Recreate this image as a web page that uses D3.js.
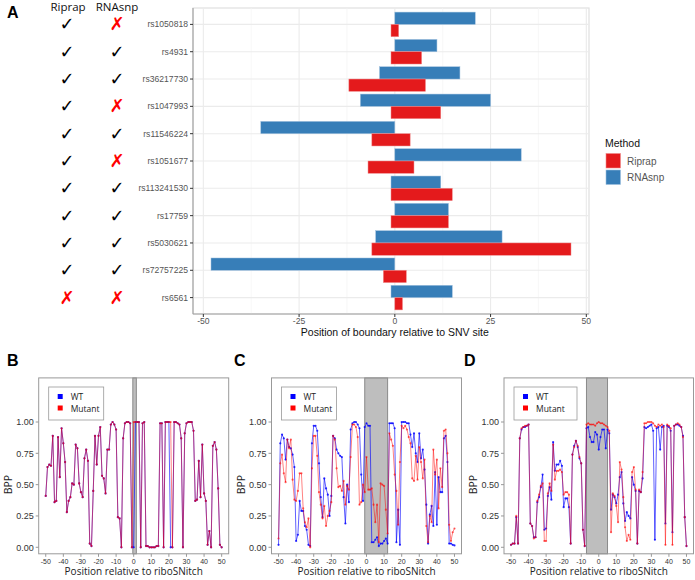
<!DOCTYPE html>
<html><head><meta charset="utf-8">
<script src="https://cdn.jsdelivr.net/npm/d3@7"></script>
<style>body{margin:0;background:#fff}svg{display:block}</style>
</head><body>
<svg id="c" width="695" height="580"></svg>
<script>
// ---------- Panel A data ----------
const categories = ["rs1050818","rs4931","rs36217730","rs1047993","rs11546224","rs1051677","rs113241530","rs17759","rs5030621","rs72757225","rs6561"];
const riprapStart = [-1,-1,-12,-1,-6,-7,-1,-1,-6,-3,0];
const riprapEnd   = [1,7,8,12,4,5,15,14,46,3,2];
const rnasnpStart = [0,0,-4,-9,-35,0,-1,0,-5,-48,-1];
const rnasnpEnd   = [21,11,17,25,0,33,12,14,28,0,15];
const riprapCheck = [true,true,true,true,true,true,true,true,true,true,false];
const rnasnpCheck = [false,true,true,false,true,false,true,true,true,true,false];
const xTicksA = [-50,-25,0,25,50];
const methods = ["Riprap","RNAsnp"];

// ---------- Panels B-D data ----------
const positions = [-50,-49,-48,-47,-46,-45,-44,-43,-42,-41,-40,-39,-38,-37,-36,-35,-34,-33,-32,-31,-30,-29,-28,-27,-26,-25,-24,-23,-22,-21,-20,-19,-18,-17,-16,-15,-14,-13,-12,-11,-10,-9,-8,-7,-6,-5,-4,-3,-2,-1,0,1,2,3,4,5,6,7,8,9,10,11,12,13,14,15,16,17,18,19,20,21,22,23,24,25,26,27,28,29,30,31,32,33,34,35,36,37,38,39,40,41,42,43,44,45,46,47,48,49,50];
const bMutant = [0.41,0.64,0.66,0.65,0.89,0.36,0.37,0.88,0.56,0.95,0.83,0.68,0.28,0.37,0.40,0.51,0.50,0.82,0.79,0.51,0.44,0.40,0.71,0.78,0.69,0.03,0.01,0.45,0.89,0.66,0.89,0.96,0.57,0.55,0.43,0.78,0.78,0.98,1.00,0.98,0.94,0.24,0.23,0.00,0.87,0.99,1.00,1.00,0.99,0.00,
  1.00,1.00,1.00,1.00,0.00,0.99,1.00,0.01,0.01,0.00,0.00,0.00,0.00,0.01,0.01,0.99,0.99,0.00,1.00,1.00,1.00,1.00,0.00,1.00,1.00,0.99,0.98,0.87,0.00,0.91,0.99,1.00,1.00,1.00,0.93,0.37,0.38,0.69,0.40,0.82,0.43,0.37,0.02,0.13,0.00,0.81,0.84,0.78,0.47,0.02,0.00];
const bWT = [0.41,0.64,0.66,0.65,0.89,0.36,0.37,0.88,0.56,0.95,0.83,0.68,0.28,0.37,0.40,0.51,0.50,0.82,0.79,0.51,0.44,0.40,0.71,0.78,0.69,0.03,0.01,0.45,0.89,0.66,0.89,0.96,0.57,0.55,0.43,0.78,0.78,0.98,1.00,0.98,0.94,0.24,0.23,0.00,0.87,0.99,1.00,1.00,0.99,0.00,
  0.00,1.00,1.00,1.00,0.00,0.99,1.00,0.01,0.01,0.00,0.00,0.00,0.00,0.01,0.01,0.99,0.99,0.00,1.00,1.00,1.00,0.00,0.00,1.00,1.00,0.99,0.98,0.87,0.00,0.91,0.99,1.00,1.00,1.00,0.93,0.37,0.38,0.69,0.40,0.82,0.43,0.37,0.02,0.13,0.00,0.81,0.84,0.78,0.47,0.02,0.00];
const cWT = [0.02,0.83,0.90,0.87,0.70,0.86,0.80,0.79,0.74,0.64,0.05,0.10,0.37,0.29,0.29,0.17,0.14,0.02,0.01,0.83,0.97,0.97,0.93,0.67,0.40,0.24,0.55,0.47,0.42,0.25,0.41,0.89,0.87,0.78,0.75,0.73,0.72,0.40,0.19,0.50,0.36,0.94,0.99,1.00,1.00,0.98,0.95,0.58,0.37,0.96,
  0.99,0.97,0.97,0.04,0.04,0.06,0.08,0.01,0.03,0.03,0.05,0.07,0.03,0.99,0.99,0.99,0.95,0.04,0.30,0.02,1.00,1.00,1.00,0.99,0.99,0.90,0.80,0.91,0.75,0.68,0.91,0.71,0.78,0.62,0.34,0.03,0.26,0.33,0.17,0.60,0.18,0.56,0.44,0.44,0.87,0.89,0.68,0.03,0.03,0.02,0.015];
const cMutant = [0.07,0.67,0.74,0.59,0.52,0.86,0.79,0.86,0.54,0.38,0.37,0.45,0.59,0.59,0.31,0.20,0.16,0.23,0.00,0.63,0.89,0.89,0.73,0.44,0.34,0.23,0.33,0.17,0.25,0.29,0.36,0.89,0.86,0.63,0.48,0.49,0.45,0.53,0.34,0.49,0.46,0.72,0.98,0.98,0.96,0.88,0.34,0.36,0.50,0.44,
  0.72,0.46,0.46,0.47,0.34,0.20,0.34,0.04,0.51,0.50,0.49,0.30,0.11,0.91,0.86,0.81,0.58,0.45,0.18,0.68,0.97,0.95,0.97,0.94,0.88,0.83,0.55,0.53,0.73,0.54,0.80,0.68,0.55,0.70,0.17,0.04,0.25,0.20,0.78,0.58,0.70,0.31,0.63,0.48,0.93,0.94,0.75,0.18,0.05,0.12,0.15];
const dWT = [0.02,0.03,0.03,0.24,0.03,0.87,0.94,0.96,0.96,0.97,0.98,0.19,0.17,0.08,0.08,0.36,0.40,0.48,0.58,0.14,0.15,0.41,0.48,0.38,0.84,0.61,0.66,0.66,0.69,0.65,0.32,0.39,0.39,0.32,0.03,0.74,0.81,0.85,0.80,0.71,0.67,0.14,0.01,0.95,0.96,0.88,0.84,0.84,0.92,0.90,
  0.78,0.88,0.94,0.94,0.79,0.94,0.91,0.30,0.42,0.40,0.35,0.42,0.56,0.60,0.35,0.21,0.28,0.25,0.23,0.56,0.50,0.45,0.03,0.45,0.44,0.55,0.96,0.95,0.96,0.97,0.98,0.93,0.06,0.95,0.96,0.78,0.96,0.97,0.19,0.97,0.96,0.93,0.12,0.97,0.98,0.98,0.97,0.96,0.89,0.24,0.01];
const dMutant = [0.02,0.03,0.03,0.25,0.03,0.87,0.95,0.96,0.97,0.97,0.98,0.19,0.17,0.07,0.08,0.37,0.42,0.49,0.51,0.05,0.05,0.43,0.51,0.45,0.82,0.54,0.61,0.61,0.62,0.60,0.42,0.44,0.44,0.42,0.03,0.74,0.80,0.85,0.81,0.72,0.67,0.14,0.01,0.98,0.99,0.98,0.98,0.98,0.97,0.99,
  1.00,0.99,0.99,0.98,0.97,0.96,0.93,0.12,0.43,0.41,0.33,0.20,0.68,0.62,0.40,0.16,0.05,0.10,0.06,0.60,0.64,0.46,0.03,0.46,0.44,0.60,0.99,0.99,1.00,1.00,1.00,0.99,0.97,0.96,0.98,0.97,0.98,0.96,0.02,0.98,0.97,0.95,0.02,0.97,0.98,0.99,0.98,0.96,0.88,0.24,0.01];
const bppTicks = [0,0.25,0.5,0.75,1];
const posTicks = [-50,-40,-30,-20,-10,0,10,20,30,40,50];
const bands = {B:[-0.5,1.5], C:[-1,12], D:[-7,5]};

const svg = d3.select("#c");
const sans = "'Liberation Sans', Arial, sans-serif";

// ===================== Panel A =====================
const xA = d3.scaleLinear().domain([-52.7,50.7]).range([193,589]);
const yA = d3.scalePoint().domain(categories).range([8,314]).padding(0.6);
const step = yA.step();
const gA = svg.append("g");

gA.append("rect").attr("x",193).attr("y",8).attr("width",396).attr("height",306)
  .attr("fill","#fff").attr("stroke","#e0e0e0").attr("stroke-width",1.2);
const minorA = [-37.5,-12.5,12.5,37.5];
gA.selectAll(".mg").data(minorA).join("line")
  .attr("x1",d=>xA(d)).attr("x2",d=>xA(d)).attr("y1",8).attr("y2",314)
  .attr("stroke","#f3f3f3").attr("stroke-width",0.7);
gA.selectAll(".gx").data(xTicksA).join("line")
  .attr("x1",d=>xA(d)).attr("x2",d=>xA(d)).attr("y1",8).attr("y2",314)
  .attr("stroke","#ebebeb").attr("stroke-width",1.1);
gA.selectAll(".gy").data(categories).join("line")
  .attr("x1",193).attr("x2",589).attr("y1",d=>yA(d)).attr("y2",d=>yA(d))
  .attr("stroke","#ebebeb").attr("stroke-width",1.1);

const barH = step*0.45;
const barData = [];
categories.forEach((c,i)=>{
  barData.push({cat:c, m:"RNAsnp", s:rnasnpStart[i], e:rnasnpEnd[i]});
  barData.push({cat:c, m:"Riprap", s:riprapStart[i], e:riprapEnd[i]});
});
const colA = d3.scaleOrdinal().domain(methods).range(["#E41A1C","#377EB8"]);
gA.selectAll(".bar").data(barData).join("rect")
  .attr("x",d=>xA(Math.min(d.s,d.e)))
  .attr("width",d=>Math.max(1.5,Math.abs(xA(d.e)-xA(d.s))))
  .attr("y",d=>d.m==="RNAsnp"? yA(d.cat)-barH : yA(d.cat))
  .attr("height",barH)
  .attr("fill",d=>colA(d.m))
  .attr("stroke",d=>d.m==="RNAsnp"?"#9fc0de":"#f08a8b").attr("stroke-width",0.5);

gA.append("line").attr("x1",193).attr("x2",193).attr("y1",8).attr("y2",314).attr("stroke","#a0a0a0").attr("stroke-width",1.1);
gA.append("line").attr("x1",193).attr("x2",589).attr("y1",314).attr("y2",314).attr("stroke","#a0a0a0").attr("stroke-width",1.1);
gA.selectAll(".yt").data(categories).join("line")
  .attr("x1",190).attr("x2",193).attr("y1",d=>yA(d)).attr("y2",d=>yA(d)).attr("stroke","#333");
gA.selectAll(".yl").data(categories).join("text")
  .attr("x",188).attr("y",d=>yA(d)+3).attr("text-anchor","end")
  .attr("font-family",sans).attr("font-size",8.6).attr("fill","#555").text(d=>d);
gA.selectAll(".xt").data(xTicksA).join("line")
  .attr("x1",d=>xA(d)).attr("x2",d=>xA(d)).attr("y1",314).attr("y2",317).attr("stroke","#333");
gA.selectAll(".xl").data(xTicksA).join("text")
  .attr("x",d=>xA(d)).attr("y",324).attr("text-anchor","middle")
  .attr("font-family",sans).attr("font-size",8.6).attr("fill","#555").text(d=>d);
gA.append("text").attr("x",xA(0)).attr("y",336).attr("text-anchor","middle")
  .attr("font-family",sans).attr("font-size",10.5).attr("fill","#111")
  .text("Position of boundary relative to SNV site");

gA.append("text").attr("x",605).attr("y",147).attr("font-family",sans).attr("font-size",10.5).attr("fill","#111").text("Method");
methods.forEach((m,i)=>{
  gA.append("rect").attr("x",606).attr("y",153.5+i*16.5).attr("width",14.5).attr("height",14.5)
    .attr("fill",colA(m)).attr("stroke",i? "#9fc0de":"#f08a8b").attr("stroke-width",0.6);
  gA.append("text").attr("x",627).attr("y",164.5+i*16.5).attr("font-family",sans).attr("font-size",10)
    .attr("fill","#555").text(m);
});

gA.append("text").attr("x",68).attr("y",11).attr("text-anchor","middle").attr("font-family","'Open Sans', sans-serif").attr("font-size",11.5).attr("fill","#111").text("Riprap");
gA.append("text").attr("x",117).attr("y",11).attr("text-anchor","middle").attr("font-family","'Open Sans', sans-serif").attr("font-size",11.5).attr("fill","#111").text("RNAsnp");
const markFont = "'DejaVu Sans', sans-serif";
categories.forEach((c,i)=>{
  gA.append("text").attr("x",67).attr("y",yA(c)+6).attr("text-anchor","middle")
    .attr("font-family",markFont).attr("font-size",18)
    .attr("fill",riprapCheck[i]?"#000":"#ff0000").text(riprapCheck[i]?"✓":"✗");
  gA.append("text").attr("x",117).attr("y",yA(c)+6).attr("text-anchor","middle")
    .attr("font-family",markFont).attr("font-size",18)
    .attr("fill",rnasnpCheck[i]?"#000":"#ff0000").text(rnasnpCheck[i]?"✓":"✗");
});
svg.append("text").attr("x",7).attr("y",18).attr("font-family",sans).attr("font-weight","bold").attr("font-size",16).text("A");

// ===================== Panels B-D =====================
const yB = d3.scaleLinear().domain([-0.052,1.352]).range([553.8,377.9]);
const panels = [
  {id:"B", range:[38.7,228.7], wt:bWT, mut:bMutant, letterX:7},
  {id:"C", range:[271.5,461.5], wt:cWT, mut:cMutant, letterX:234},
  {id:"D", range:[504,693.5], wt:dWT, mut:dMutant, letterX:464}
];
const fontB = "'Open Sans', sans-serif";
panels.forEach(p=>{
  const x = d3.scaleLinear().domain([-54,54]).range(p.range);
  const g = svg.append("g");
  const L = p.range[0], R = p.range[1], T = yB(1.352), Bm = yB(-0.052);
  svg.append("text").attr("x",p.letterX).attr("y",366).attr("font-family",sans).attr("font-weight","bold").attr("font-size",16).text(p.id);
  const bd = bands[p.id];
  g.append("rect").attr("x",x(bd[0])).attr("y",T).attr("width",x(bd[1])-x(bd[0])).attr("height",Bm-T)
    .attr("fill","#bebebe").attr("stroke","#8a8a8a").attr("stroke-width",1);
  const ptsW = positions.map((d,i)=>[d,p.wt[i]]);
  const ptsM = positions.map((d,i)=>[d,p.mut[i]]);
  const line = d3.line().x(d=>x(d[0])).y(d=>yB(d[1]));
  g.append("path").attr("d",line(ptsW)).attr("fill","none").attr("stroke","#0000ff").attr("stroke-opacity",0.7).attr("stroke-width",0.9);
  g.selectAll(".pw").data(ptsW).join("circle").attr("cx",d=>x(d[0])).attr("cy",d=>yB(d[1])).attr("r",1.1).attr("fill","#0000ff").attr("fill-opacity",0.8);
  g.append("path").attr("d",line(ptsM)).attr("fill","none").attr("stroke","#ff0000").attr("stroke-opacity",0.55).attr("stroke-width",0.9);
  g.selectAll(".pm").data(ptsM).join("circle").attr("cx",d=>x(d[0])).attr("cy",d=>yB(d[1])).attr("r",1.1).attr("fill","#ff0000").attr("fill-opacity",0.6);
  g.append("rect").attr("x",L).attr("y",T).attr("width",R-L).attr("height",Bm-T).attr("fill","none").attr("stroke","#999").attr("stroke-width",1);
  g.selectAll(".yt").data(bppTicks).join("line").attr("x1",L-3).attr("x2",L).attr("y1",d=>yB(d)).attr("y2",d=>yB(d)).attr("stroke","#999");
  g.selectAll(".yl").data(bppTicks).join("text").attr("x",L-5).attr("y",d=>yB(d)+3.3).attr("text-anchor","end")
    .attr("font-family",sans).attr("font-size",9).attr("fill","#333").text(d=>d3.format(".2f")(d));
  g.selectAll(".xt").data(posTicks).join("line").attr("x1",d=>x(d)).attr("x2",d=>x(d)).attr("y1",Bm).attr("y2",Bm+3).attr("stroke","#999");
  g.selectAll(".xl").data(posTicks).join("text").attr("x",d=>x(d)).attr("y",Bm+10).attr("text-anchor","middle")
    .attr("font-family",sans).attr("font-size",7).attr("fill","#333").text(d=>d);
  g.append("text").attr("x",(L+R)/2).attr("y",575).attr("text-anchor","middle").attr("font-family",fontB).attr("font-size",10).attr("fill","#222").text("Position relative to riboSNitch");
  g.append("text").attr("transform",`translate(${L-27},${yB(0.5)}) rotate(-90)`).attr("text-anchor","middle").attr("font-family",fontB).attr("font-size",10.5).attr("fill","#222").text("BPP");
  const lx = L+10, ly = 387;
  g.append("rect").attr("x",lx).attr("y",ly).attr("width",p.id==="D"?63:55).attr("height",33).attr("fill","#fff").attr("stroke","#999").attr("stroke-width",0.8);
  [["WT","#0000ff"],["Mutant","#ff0000"]].forEach((e,i)=>{
    g.append("rect").attr("x",lx+9).attr("y",ly+7+i*11.5).attr("width",5).attr("height",5).attr("fill",e[1]);
    g.append("text").attr("x",lx+22).attr("y",ly+13+i*11.5).attr("font-family",fontB).attr("font-size",8.5).attr("fill","#222").text(e[0]);
  });
});
</script>
</body></html>
